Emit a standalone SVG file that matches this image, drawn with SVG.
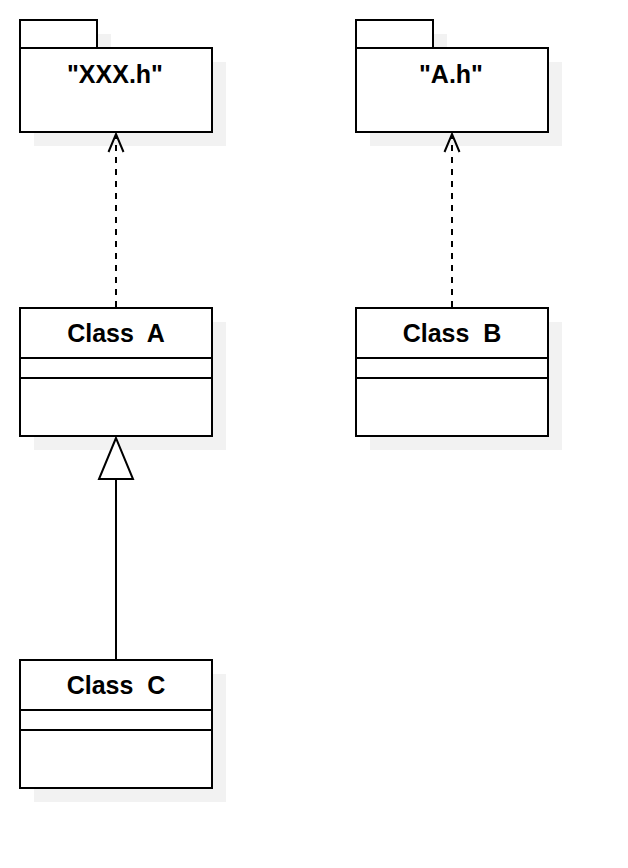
<svg xmlns="http://www.w3.org/2000/svg" width="628" height="868" viewBox="0 0 628 868">
<style>
.shadow{fill:#f2f2f2;stroke:none}
.box{fill:#ffffff;stroke:#000000;stroke-width:2}
.sep{stroke:#000000;stroke-width:2;fill:none}
.lbl{font-family:"Liberation Sans",Arial,sans-serif;font-size:25px;font-weight:bold;fill:#000000;text-anchor:middle;white-space:pre}
.dash{stroke:#000000;stroke-width:2;stroke-dasharray:6 6;fill:none}
.solid{stroke:#000000;stroke-width:2;fill:none}
.open{stroke:#000000;stroke-width:2;fill:none}
.tri{stroke:#000000;stroke-width:2;fill:#ffffff}
</style>
<rect width="628" height="868" fill="#ffffff"/>
<g id="pkg-xxx">
<rect class="shadow" x="34" y="34" width="77" height="28"/>
<rect class="shadow" x="34" y="62" width="192" height="84"/>
<rect class="box" x="20" y="20" width="77" height="28"/>
<rect class="box" x="20" y="48" width="192" height="84"/>
<text class="lbl" x="115" y="83">"XXX.h"</text>
</g>
<g id="pkg-a">
<rect class="shadow" x="370" y="34" width="77" height="28"/>
<rect class="shadow" x="370" y="62" width="192" height="84"/>
<rect class="box" x="356" y="20" width="77" height="28"/>
<rect class="box" x="356" y="48" width="192" height="84"/>
<text class="lbl" x="451" y="83">"A.h"</text>
</g>
<g id="class-a">
<rect class="shadow" x="34" y="322" width="192" height="128"/>
<rect class="box" x="20" y="308" width="192" height="128"/>
<line class="sep" x1="20" y1="358" x2="212" y2="358"/>
<line class="sep" x1="20" y1="378" x2="212" y2="378"/>
<text class="lbl" x="116" y="342" xml:space="preserve">Class  A</text>
</g>
<g id="class-b">
<rect class="shadow" x="370" y="322" width="192" height="128"/>
<rect class="box" x="356" y="308" width="192" height="128"/>
<line class="sep" x1="356" y1="358" x2="548" y2="358"/>
<line class="sep" x1="356" y1="378" x2="548" y2="378"/>
<text class="lbl" x="452" y="342" xml:space="preserve">Class  B</text>
</g>
<g id="class-c">
<rect class="shadow" x="34" y="674" width="192" height="128"/>
<rect class="box" x="20" y="660" width="192" height="128"/>
<line class="sep" x1="20" y1="710" x2="212" y2="710"/>
<line class="sep" x1="20" y1="730" x2="212" y2="730"/>
<text class="lbl" x="116" y="694" xml:space="preserve">Class  C</text>
</g>
<g id="connectors">
<line class="dash" x1="116" y1="307" x2="116" y2="135"/>
<polyline class="open" points="108.5,152 116,134 123.5,152"/>
<line class="dash" x1="452" y1="307" x2="452" y2="135"/>
<polyline class="open" points="444.5,152 452,134 459.5,152"/>
<line class="solid" x1="116" y1="659" x2="116" y2="479"/>
<polygon class="tri" points="116,438 99,479 133,479"/>
</g>
</svg>
